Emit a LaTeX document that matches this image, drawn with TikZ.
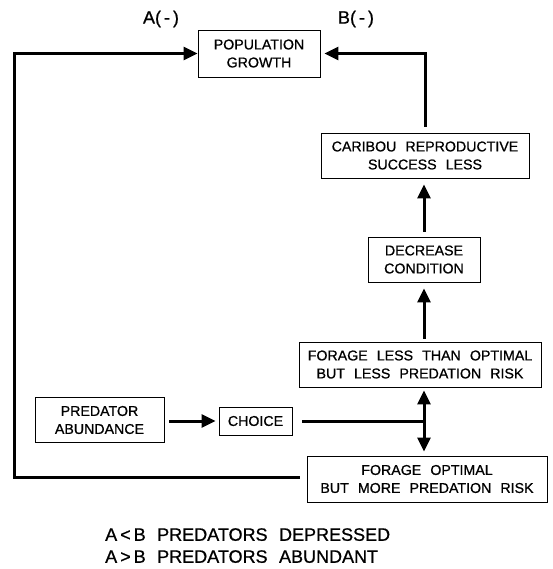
\documentclass[tikz,border=0pt]{standalone}
\usepackage{fontspec}
\setmainfont{Liberation Sans}[WordSpace=2.3,FakeBold=0.8]
\usetikzlibrary{arrows.meta,positioning}

\begin{document}
\begin{tikzpicture}[x=1pt,y=-1pt,
  box/.style={draw,line width=0.9pt,align=center,inner sep=0pt,
    font=\fontsize{14.2}{18}\selectfont},
  flow/.style={line width=3pt,-{Triangle[length=14pt,width=13pt]}},
  bigtext/.style={font=\fontsize{18}{22}\selectfont,inner sep=0pt}]
\useasboundingbox (0,0) rectangle (552,569);
% boxes
\node [box,minimum width=122pt,minimum height=47pt] (pop) at (259,53.5) {POPULATION\\GROWTH};
\node [box,minimum width=208pt,minimum height=45pt] (caribou) at (425,155.5) {CARIBOU REPRODUCTIVE\\SUCCESS LESS};
\node [box,minimum width=112pt,minimum height=45pt] (decr) at (424,259.5) {DECREASE\\CONDITION};
\node [box,minimum width=242pt,minimum height=45pt] (fless) at (420,364.5) {FORAGE LESS THAN OPTIMAL\\BUT LESS PREDATION RISK};
\node [box,minimum width=240pt,minimum height=46pt] (fopt) at (427,479) {FORAGE OPTIMAL\\BUT MORE PREDATION RISK};
\node [box,minimum width=129pt,minimum height=45pt] (pred) at (99.5,420) {PREDATOR\\ABUNDANCE};
\node [box,minimum width=73pt,minimum height=28pt] (choice) at (255.5,421) {CHOICE};
% labels
\node [bigtext] (labA) at (161,19) {A(\,-\,)};
\node [bigtext] (labB) at (356,19) {B(\,-\,)};
\node [bigtext,anchor=north west,align=left] (legend) at (105,528) {A\,<\,B PREDATORS DEPRESSED\\A\,>\,B PREDATORS ABUNDANT};
% connectors
\coordinate (cornerA) at (14,53.5);
\coordinate (fork) at (424,421);
\draw [flow] ([xshift=-7pt,yshift=2pt]fopt.west) -| (cornerA) -- (pop.west);
\draw [flow,shorten >=4pt] ([yshift=6pt]caribou.north) |- (pop.east);
\draw [flow,shorten <=5pt,shorten >=6pt] (decr.north) -- (decr.north |- caribou.south);
\draw [flow,shorten <=3pt,shorten >=6pt] (decr.south |- fless.north) -- (decr.south);
\draw [flow,shorten <=5pt,shorten >=3pt] (pred.east |- choice) -- (choice.west);
\draw [line width=3pt] ([xshift=10pt]choice.east) -- (fork);
\draw [flow,{Triangle[length=14pt,width=13pt]}-{Triangle[length=14pt,width=13pt]},shorten <=3pt,shorten >=4pt] (fork |- fless.south) -- (fork |- fopt.north);
\end{tikzpicture}
\end{document}
